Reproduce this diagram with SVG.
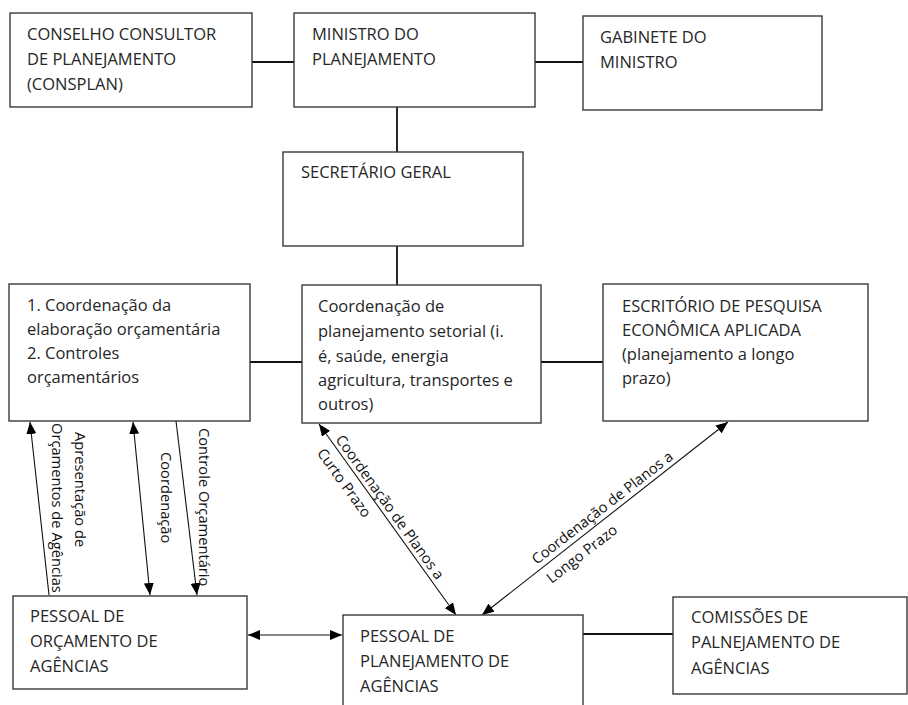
<svg xmlns="http://www.w3.org/2000/svg" width="908" height="705" viewBox="0 0 908 705">
<style>
.box{fill:#fff;stroke:#3a3a3a;stroke-width:1.4}
.t{font-family:"Open Sans","Noto Sans","DejaVu Sans",sans-serif;font-size:16.5px;fill:#262626}
.l{font-family:"Open Sans","Noto Sans","DejaVu Sans",sans-serif;font-size:14.7px;fill:#111}
.c{fill:none;stroke:#111;stroke-width:1.8}
.a{fill:none;stroke:#111;stroke-width:1.1}
</style>
<defs>
<marker id="ah" viewBox="0 0 12 10" refX="12" refY="5" markerWidth="12" markerHeight="10" markerUnits="userSpaceOnUse" orient="auto-start-reverse">
<path d="M0,0 L12,5 L0,10 z" fill="#000"/>
</marker>
</defs>
<rect width="908" height="705" fill="#fff"/>
<g id="connectors">
<path class="c" d="M252,62 H294"/>
<path class="c" d="M535,62 H583"/>
<path class="c" d="M397,107 V152"/>
<path class="c" d="M397,246 V285"/>
<path class="c" d="M250,362 H302"/>
<path class="c" d="M541,362 H603"/>
<path class="c" d="M583,634 H673"/>
<path class="a" d="M49,595 L30,422" marker-end="url(#ah)"/>
<path class="a" d="M133,422 L150,595" marker-start="url(#ah)" marker-end="url(#ah)"/>
<path class="a" d="M176,421 L197,595" marker-end="url(#ah)"/>
<path class="a" d="M319,424 L456,615" marker-start="url(#ah)" marker-end="url(#ah)"/>
<path class="a" d="M728,422 L482,615" marker-start="url(#ah)" marker-end="url(#ah)"/>
<path class="a" d="M248,635 L342,635" marker-start="url(#ah)" marker-end="url(#ah)"/>
<g transform="translate(75,432) rotate(90)"><text class="l" x="0" y="0">Apresentação de</text></g>
<g transform="translate(52,423) rotate(90)"><text class="l" x="0" y="0">Orçamentos de Agências</text></g>
<g transform="translate(161,452) rotate(90)"><text class="l" x="0" y="0">Coordenação</text></g>
<g transform="translate(199,428) rotate(90)"><text class="l" x="0" y="0">Controle Orçamentário</text></g>
<g transform="translate(319,424) rotate(54.3)"><text class="l" x="22" y="-4">Coordenação de Planos a</text><text class="l" x="22" y="19">Curto Prazo</text></g>
<g transform="translate(483,613) rotate(-37.8)"><text class="l" x="72" y="-5">Coordenação de Planos a</text><text class="l" x="72" y="19">Longo Prazo</text></g>
</g>
<g id="consplan"><rect class="box" x="10" y="13" width="242" height="94"/>
<text class="t" x="27" y="40">CONSELHO CONSULTOR</text><text class="t" x="27" y="65">DE PLANEJAMENTO</text><text class="t" x="27" y="90">(CONSPLAN)</text></g>
<g id="ministro"><rect class="box" x="294" y="13" width="241" height="94"/>
<text class="t" x="312" y="40">MINISTRO DO</text><text class="t" x="312" y="65">PLANEJAMENTO</text></g>
<g id="gabinete"><rect class="box" x="583" y="16" width="239" height="94"/>
<text class="t" x="600" y="43">GABINETE DO</text><text class="t" x="600" y="68">MINISTRO</text></g>
<g id="secretario"><rect class="box" x="283" y="152" width="240" height="94"/>
<text class="t" x="301" y="178">SECRETÁRIO GERAL</text></g>
<g id="orcamento"><rect class="box" x="9" y="284" width="241" height="137"/>
<text class="t" x="27" y="311">1. Coordenação da</text><text class="t" x="27" y="335">elaboração orçamentária</text><text class="t" x="27" y="359">2. Controles</text><text class="t" x="27" y="383">orçamentários</text></g>
<g id="setorial"><rect class="box" x="302" y="285" width="239" height="138"/>
<text class="t" x="318" y="312">Coordenação de</text><text class="t" x="318" y="337">planejamento setorial (i.</text><text class="t" x="318" y="362">é, saúde, energia</text><text class="t" x="318" y="386">agricultura, transportes e</text><text class="t" x="318" y="410">outros)</text></g>
<g id="escritorio"><rect class="box" x="603" y="284" width="265" height="137"/>
<text class="t" x="622" y="312">ESCRITÓRIO DE PESQUISA</text><text class="t" x="622" y="336">ECONÔMICA APLICADA</text><text class="t" x="622" y="360">(planejamento a longo</text><text class="t" x="622" y="384">prazo)</text></g>
<g id="pessoal-orcamento"><rect class="box" x="13" y="596" width="234" height="93"/>
<text class="t" x="30" y="622">PESSOAL DE</text><text class="t" x="30" y="647">ORÇAMENTO DE</text><text class="t" x="30" y="672">AGÊNCIAS</text></g>
<g id="pessoal-planejamento"><rect class="box" x="343" y="615" width="240" height="110"/>
<text class="t" x="360" y="642">PESSOAL DE</text><text class="t" x="360" y="667">PLANEJAMENTO DE</text><text class="t" x="360" y="692">AGÊNCIAS</text></g>
<g id="comissoes"><rect class="box" x="673" y="597" width="234" height="97"/>
<text class="t" x="691" y="623">COMISSÕES DE</text><text class="t" x="691" y="648">PALNEJAMENTO DE</text><text class="t" x="691" y="674">AGÊNCIAS</text></g>
</svg>
